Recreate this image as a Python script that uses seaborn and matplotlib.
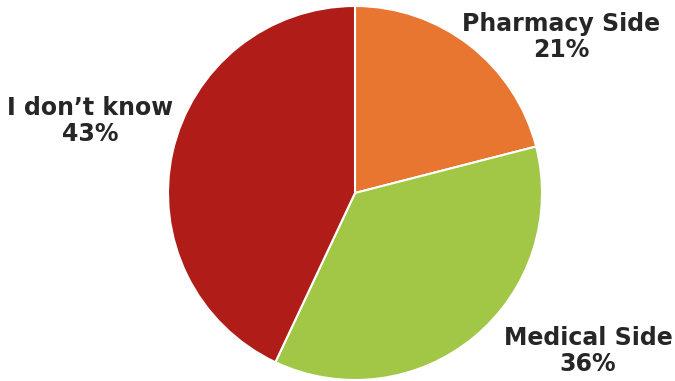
import matplotlib
matplotlib.use("Agg")
import matplotlib.pyplot as plt
import seaborn as sns

sns.set_theme(style="white")
plt.rcParams['font.family'] = ['DejaVu Sans']

categories = ["Pharmacy Side", "Medical Side", "I don\u2019t know"]
values = [21, 36, 43]
colors = ["#E87530", "#A2C645", "#B01C18"]

fig = plt.figure(figsize=(6.75, 3.81), dpi=100)
ax = fig.add_axes([0, 0, 1, 1])

ax.pie(values, colors=colors, startangle=90, counterclock=False,
       center=(355, 188), radius=187, frame=True,
       wedgeprops=dict(edgecolor="white", linewidth=1.5))
ax.set_xlim(0, 675)
ax.set_ylim(0, 381)
ax.set_aspect("equal")
ax.axis("off")

label_pos = [(561, 344), (588, 30), (90, 260)]
for cat, v, (x, y) in zip(categories, values, label_pos):
    ax.text(x, y, f"{cat}\n{v}%", ha="center", va="center", fontsize=17,
            fontweight="semibold", color="#262626", linespacing=1.12)

fig.savefig("out.png", dpi=100)
